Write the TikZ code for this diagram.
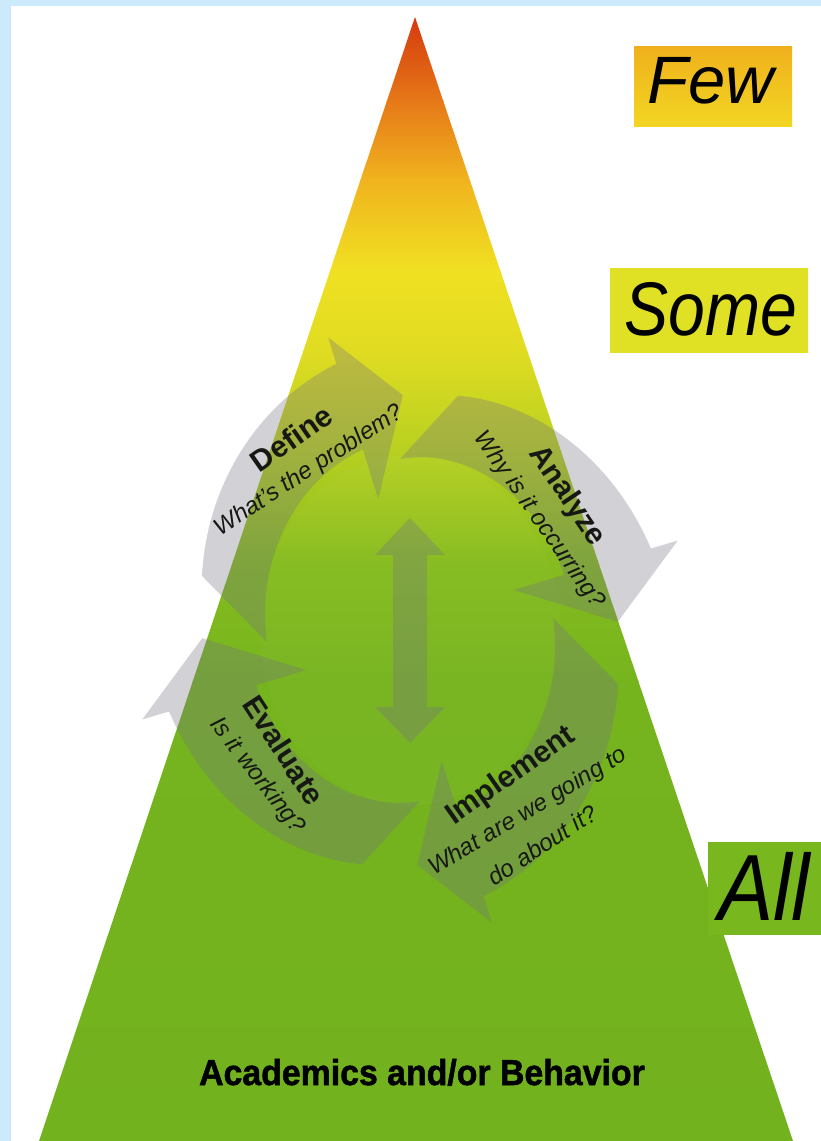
\documentclass[tikz,border=0pt]{standalone}
\usepackage{fontspec}
\setmainfont{Liberation Sans}
\newfontfamily\heavyfont{Liberation Sans}[BoldFeatures={FakeBold=1.5}]
\definecolor{frameblue}{RGB}{205,234,253}
\definecolor{arrowgray}{RGB}{115,115,130}
\definecolor{txt}{RGB}{22,24,20}
\definecolor{c0}{RGB}{212,56,14}
\definecolor{c1}{RGB}{230,120,24}
\definecolor{c2}{RGB}{240,180,30}
\definecolor{c3}{RGB}{240,224,34}
\definecolor{c4}{RGB}{224,220,34}
\definecolor{c5}{RGB}{184,208,32}
\definecolor{c6}{RGB}{134,188,30}
\definecolor{c7}{RGB}{118,180,30}
\definecolor{c8}{RGB}{114,178,30}
\definecolor{fewtop}{RGB}{240,176,28}
\definecolor{fewbot}{RGB}{242,214,35}
\definecolor{somefill}{RGB}{224,224,36}
\definecolor{allfill}{RGB}{120,184,30}
\tikzset{
  arrowfill/.style={fill=arrowgray, fill opacity=0.32},
  titletext/.style={font=\bfseries\fontsize{30}{30}\selectfont, text=txt, inner sep=0pt},
  subtext/.style={font=\itshape\fontsize{24}{24}\selectfont, text=txt, inner sep=0pt},
  levelbox/.style={inner sep=0pt, text=black}
}
% one curved arrow of the cycle, rotated by #1 degrees
\newcommand\cycarrow[1]{%
  \fill[arrowfill]
    plot[domain=0:1,samples=40,variable=\q]
      ({410+(140+70*(1.05+0.55*\q))*cos(#1+77-60*\q)},{630-(168+69*(1.05+0.55*\q))*sin(#1+77-60*\q)})
    -- ({410+280*cos(#1+17)},{630-306*sin(#1+17)})
    -- ({410+(140+70*0.97)*cos(#1+2)},{630-(168+69*0.97)*sin(#1+2)})
    -- ({410+108.5*cos(#1+17)},{630-137*sin(#1+17)})
    -- plot[domain=0:1,samples=40,variable=\q]
      ({410+(140+70*(0.3-0.25*\q))*cos(#1+17+77*\q)},{630-(168+69*(0.3-0.25*\q))*sin(#1+17+77*\q)})
    -- cycle;}
\begin{document}
\begin{tikzpicture}[x=1pt,y=-1pt]
\useasboundingbox (0,0) rectangle (821,1141);
\fill[frameblue] (0,0) rectangle (821,1141);
\fill[white] (11,6) rectangle (821,1141);
% pyramid
\begin{scope}
  \clip (415,17) -- (793,1141) -- (39,1141) -- cycle;
  \shade[top color=c0,bottom color=c1] (0,15) rectangle (821,101);
  \shade[top color=c1,bottom color=c2] (0,100) rectangle (821,181);
  \shade[top color=c2,bottom color=c3] (0,180) rectangle (821,271);
  \shade[top color=c3,bottom color=c4] (0,270) rectangle (821,351);
  \shade[top color=c4,bottom color=c5] (0,350) rectangle (821,451);
  \shade[top color=c5,bottom color=c6] (0,450) rectangle (821,561);
  \shade[top color=c6,bottom color=c7] (0,560) rectangle (821,681);
  \shade[top color=c7,bottom color=c8] (0,680) rectangle (821,1142);
  \fill[white, fill opacity=0.025] (410,630) ellipse [x radius=150, y radius=175];
\end{scope}
% cycle arrows
\cycarrow{0}
\cycarrow{-90}
\cycarrow{180}
\cycarrow{90}
% central double arrow
\fill[arrowfill] (410,518) -- (445,555) -- (427,555) -- (427,707) -- (445,707)
  -- (410,743) -- (375,707) -- (393,707) -- (393,555) -- (375,555) -- cycle;
% cycle labels
\node[titletext, rotate=35] (define) at (291,438) {Define};
\node[subtext, rotate=33] (defineq) at (309,471) {What's the problem?};
\node[titletext, rotate=-56] (analyze) at (567,496) {Analyze};
\node[subtext, rotate=-55] (analyzeq) at (539,520) {Why is it occurring?};
\node[titletext, rotate=-57] (evaluate) at (284,750) {Evaluate};
\node[subtext, rotate=-52] (evaluateq) at (257,776) {Is it working?};
\node[titletext, rotate=35] (implement) at (511,776) {Implement};
\node[subtext, rotate=31] (implementq1) at (528,812) {What are we going to};
\node[subtext, rotate=33] (implementq2) at (542,845) {do about it?};
% level labels
\shade[top color=fewtop, bottom color=fewbot] (634,46) rectangle (792,126);
\node[levelbox, font=\itshape\fontsize{67}{67}\selectfont, anchor=base] (few) at (711,103) {Few};
\fill[somefill] (610,268) rectangle (808,353);
\node[levelbox, font=\itshape\fontsize{76}{76}\selectfont, anchor=base, xscale=0.87] (some) at (711,335) {Some};
\fill[allfill] (708,842) rectangle (821,935);
\node[levelbox, font=\itshape\fontsize{94}{94}\selectfont, anchor=base west, xscale=0.88] (all) at (718,920) {All};
% base label
\node[levelbox, font=\heavyfont\bfseries\fontsize{36}{36}\selectfont, anchor=base, xscale=0.94] (basetext) at (422,1085) {Academics and/or Behavior};
\end{tikzpicture}
\end{document}
